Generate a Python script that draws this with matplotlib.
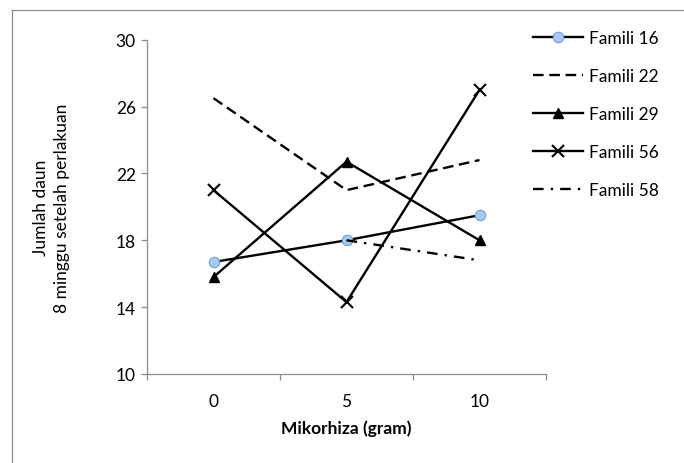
import numpy as np
import matplotlib
matplotlib.use("Agg")
import matplotlib.pyplot as plt
from matplotlib.lines import Line2D

plt.rcParams['font.family'] = ['Lato', 'DejaVu Sans']

categories = ["0", "5", "10"]
famili_16 = [16.7, 18.0, 19.5]
famili_22 = [26.5, 21.0, 22.8]
famili_29 = [15.8, 22.7, 18.0]
famili_56 = [21.0, 14.3, 27.0]
famili_58 = [np.nan, 18.0, 16.8]
yticks = [10, 14, 18, 22, 26, 30]

W, H = 684, 464
fig = plt.figure(figsize=(W / 100, H / 100), dpi=100)
ax = fig.add_axes([147 / W, 1 - 375 / H, (546 - 147) / W, (375 - 40.7) / H])

FS = 12.5
x = np.arange(len(categories)) + 0.5
lw = 1.7
ax.plot(x, famili_16, color='black', lw=lw, marker='o', markersize=7.5,
        markerfacecolor='#a9c9f2', markeredgecolor='#6a9fe0', markeredgewidth=0.8,
        label='Famili 16', zorder=3)
ax.plot(x, famili_22, color='black', lw=lw, dashes=(4.5, 2.4), label='Famili 22', zorder=3)
ax.plot(x, famili_29, color='black', lw=lw, marker='^', markersize=6.5,
        markerfacecolor='black', markeredgecolor='black', label='Famili 29', zorder=3)
ax.plot(x, famili_56, color='black', lw=lw, marker='x', markersize=8,
        markeredgewidth=1.5, label='Famili 56', zorder=3)
ax.plot(x, famili_58, color='black', lw=lw, dashes=(4.5, 3, 1, 3), label='Famili 58', zorder=4)

ax.set_xlim(0, 3)
ax.set_ylim(10, 30)
ax.set_yticks(yticks)
ax.set_yticklabels([str(t) for t in yticks])
ax.set_xticks([0, 1, 2, 3])
ax.set_xticklabels([])
ax.set_xticks(x, minor=True)
ax.set_xticklabels(categories, minor=True)

for s in ['top', 'right']:
    ax.spines[s].set_visible(False)
for s in ['left', 'bottom']:
    ax.spines[s].set_color('#8c8c8c')
    ax.spines[s].set_linewidth(0.9)

ax.tick_params(axis='y', which='major', length=4, width=0.9, color='#8c8c8c',
               labelsize=FS, pad=4, labelcolor='black')
ax.tick_params(axis='x', which='major', length=4, width=0.9, color='#8c8c8c')
ax.tick_params(axis='x', which='minor', length=0, labelsize=FS, pad=14)

ax.set_xlabel('Mikorhiza (gram)', fontsize=FS, fontweight='bold', labelpad=7)
ax.set_ylabel('Jumlah daun\n8 minggu setelah perlakuan', fontsize=FS, labelpad=33,
              linespacing=1.4)

leg = fig.legend(loc='upper left', bbox_to_anchor=(526 / W, 1 - 24 / H),
                 frameon=False, fontsize=FS, handlelength=2.9, handletextpad=0.35,
                 labelspacing=1.27, borderaxespad=0)

# chart area border (top and left visible)
fig.add_artist(Line2D([11.5 / W, 11.5 / W], [0, 1 - 11 / H], transform=fig.transFigure,
                      color='#8c8c8c', lw=0.9))
fig.add_artist(Line2D([11.5 / W, 1], [1 - 11 / H, 1 - 11 / H], transform=fig.transFigure,
                      color='#8c8c8c', lw=0.9))

fig.savefig('out.png', dpi=100)
